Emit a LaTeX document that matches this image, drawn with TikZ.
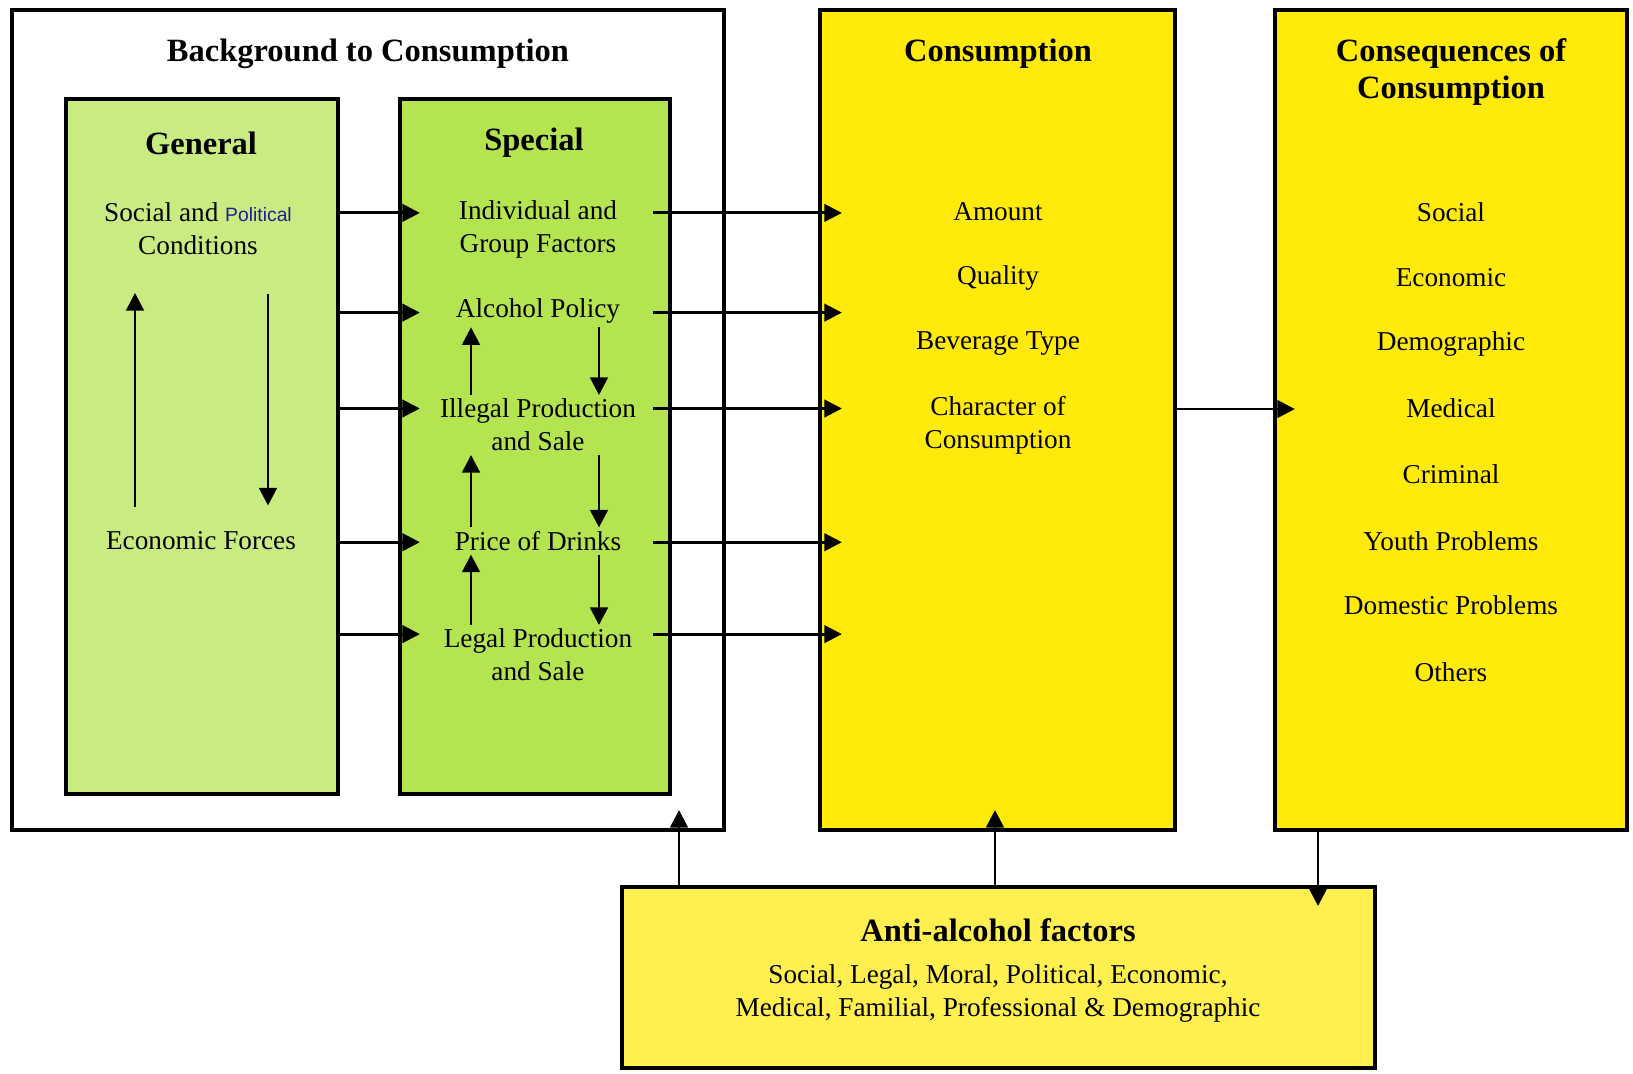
\documentclass[tikz,border=0pt]{standalone}
\usepackage{xcolor}
\usepackage{tikz}
\usepackage{fontspec}
\setmainfont{Liberation Serif}
\newfontfamily\polfont{Liberation Sans}
\usetikzlibrary{positioning,calc,arrows.meta}
\definecolor{leafgreen}{RGB}{180,228,80}
\definecolor{palegreen}{RGB}{200,236,130}
\definecolor{sunyellow}{RGB}{255,234,10}
\definecolor{paleyellow}{RGB}{255,240,80}
\definecolor{inkblue}{RGB}{30,30,150}
\tikzset{
  panel/.style={draw, line width=2.5pt, inner sep=0pt},
  lbl/.style={align=center, inner sep=2pt, font=\fontsize{15.5}{18.8}\selectfont},
  head/.style={align=center, inner sep=2pt, font=\fontsize{18.5}{21.5}\selectfont\bfseries},
  arr/.style={line width=1.6pt, -{Triangle[length=10pt,width=10pt]}}
}
\begin{document}
\begin{tikzpicture}[x=0.02cm, y=-0.02cm]
\useasboundingbox (0,0) rectangle (1633,1073);

\node[panel, minimum width=14.24cm, minimum height=16.4cm] (bg) at (368,420) {};
\node[panel, fill=palegreen, minimum width=5.44cm, minimum height=13.9cm] (gen) at (202,446.5) {};
\node[panel, fill=leafgreen, minimum width=5.4cm, minimum height=13.9cm] (spec) at (535,446.5) {};
\node[panel, fill=sunyellow, minimum width=7.1cm, minimum height=16.4cm] (cons) at (997.5,420) {};
\node[panel, fill=sunyellow, minimum width=7.04cm, minimum height=16.4cm] (conseq) at (1451,420) {};
\node[panel, fill=paleyellow, minimum width=15.06cm, minimum height=3.62cm] (anti) at (998.5,977.5) {};

\node[head] (bgtitle) at (368,54) {Background to Consumption};
\node[head] (gentitle) at (201,143) {General};
\node[head] (spectitle) at (534,143) {Special};
\node[head] (constitle) at (998,54) {Consumption};
\node[head] (conseqtitle) at (1451,72) {Consequences of\\Consumption};
\node[head] (antititle) at (998,930) {Anti-alcohol factors};

\node[lbl] (soc) at (198,229) {Social and {\polfont\fontsize{11}{12}\selectfont\color{inkblue}Political}\\Conditions};
\node[lbl] (eco) at (201,541) {Economic Forces};

\node[lbl] (ind) at (538,229) {Individual and\\Group Factors};
\node[lbl] (pol) at (538,311) {Alcohol Policy};
\node[lbl] (ill) at (538,425) {Illegal Production\\and Sale};
\node[lbl] (pri) at (538,541) {Price of Drinks};
\node[lbl] (leg) at (538,655) {Legal Production\\and Sale};

\node[lbl] (amt) at (998,212) {Amount};
\node[lbl] (qual) at (998,278) {Quality};
\node[lbl] (bev) at (998,344) {Beverage Type};
\node[lbl] (char) at (998,425) {Character of\\Consumption};

\node[lbl] (csoc) at (1451,212) {Social};
\node[lbl] (ceco) at (1451,278) {Economic};
\node[lbl] (cdem) at (1451,344) {Demographic};
\node[lbl] (cmed) at (1451,408) {Medical};
\node[lbl] (ccri) at (1451,474) {Criminal};
\node[lbl] (cyou) at (1451,541) {Youth Problems};
\node[lbl] (cdom) at (1451,605) {Domestic Problems};
\node[lbl] (coth) at (1451,672) {Others};

\node[lbl] (antitext) at (998,993) {Social, Legal, Moral, Political, Economic,\\Medical, Familial, Professional \& Demographic};

\draw[arr, shorten <=0.42cm, shorten >=0.68cm] ([xshift=-1.34cm]gen.center |- eco.north) -- ([xshift=-1.34cm]gen.center |- soc.south);
\draw[arr, shorten <=0.7cm, shorten >=0.45cm] ([xshift=1.32cm]gen.center |- soc.south) -- ([xshift=1.32cm]gen.center |- eco.north);

\foreach \lo/\hi in {ill/pol, pri/ill, leg/pri} {
  \draw[arr] ([xshift=-1.28cm]spec.center |- \lo.north) -- ([xshift=-1.28cm]spec.center |- \hi.south);
  \draw[arr] ([xshift=1.28cm]spec.center |- \hi.south) -- ([xshift=1.28cm]spec.center |- \lo.north);
}

\foreach \t/\s in {ind/20pt, pol/0.5pt, ill/21.8pt, pri/2.4pt, leg/24.3pt} {
  \draw[arr] ([yshift=\s]gen.east |- \t.mid) -- ([xshift=0.44cm, yshift=\s]spec.west |- \t.mid);
  \draw[arr] ([xshift=-0.38cm, yshift=\s]spec.east |- \t.mid) -- ([xshift=0.48cm, yshift=\s]cons.west |- \t.mid);
}

\draw[arr] ([yshift=20pt]cons.east |- char.mid) -- ([xshift=0.44cm, yshift=20pt]conseq.west |- char.mid);

\coordinate (bgfoot) at (679,810);
\coordinate (consfoot) at (995,810);
\coordinate (antitip) at (1318,906);
\draw[arr] (anti.north -| bgfoot) -- (bgfoot);
\draw[arr] (anti.north -| consfoot) -- (consfoot);
\draw[arr] (conseq.south -| antitip) -- (antitip);
\end{tikzpicture}
\end{document}
